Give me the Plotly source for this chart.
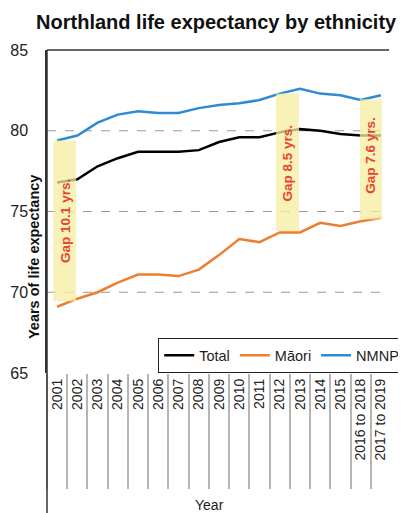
import plotly.graph_objects as go

# Category labels and series values
years = ['2001', '2002', '2003', '2004', '2005', '2006', '2007', '2008', '2009',
         '2010', '2011', '2012', '2013', '2014', '2015', '2016 to 2018', '2017 to 2019']

total = [76.8, 77.0, 77.8, 78.3, 78.7, 78.7, 78.7, 78.8, 79.3,
         79.6, 79.6, 79.9, 80.1, 80.0, 79.8, 79.7, 79.7]
maori = [69.1, 69.6, 70.0, 70.6, 71.1, 71.1, 71.0, 71.4, 72.3,
         73.3, 73.1, 73.7, 73.7, 74.3, 74.1, 74.4, 74.6]
nmnp = [79.4, 79.7, 80.5, 81.0, 81.2, 81.1, 81.1, 81.4, 81.6,
        81.7, 81.9, 82.3, 82.6, 82.3, 82.2, 81.9, 82.2]

# gap bands: start index, end index, low, high, label
gap_x0 = [-0.19, 10.82, 14.96]
gap_x1 = [0.94, 11.95, 16.05]
gap_lo = [69.45, 73.8, 74.5]
gap_hi = [79.4, 82.3, 81.95]
gap_text = ['Gap 10.1 yrs.', 'Gap 8.5 yrs.', 'Gap 7.6 yrs.']
gap_text_y = [74.4, 78.0, 78.5]

fig = go.Figure()

fig.add_trace(go.Scatter(x=years, y=total, name='Total', mode='lines',
                         line=dict(color='black', width=2.5)))
fig.add_trace(go.Scatter(x=years, y=maori, name='Māori', mode='lines',
                         line=dict(color='#ED7D31', width=2.5)))
fig.add_trace(go.Scatter(x=years, y=nmnp, name='NMNP', mode='lines',
                         line=dict(color='#2E8AD3', width=2.5)))

# dashed gridlines
for v in [70, 75, 80]:
    fig.add_shape(type='line', xref='paper', x0=0, x1=1, yref='y', y0=v, y1=v,
                  line=dict(color='#9a9a9a', width=1.2, dash='dash'), layer='below')

# yellow gap bands drawn over the lines
for x0, x1, lo, hi, t, ty in zip(gap_x0, gap_x1, gap_lo, gap_hi, gap_text, gap_text_y):
    fig.add_shape(type='rect', xref='x', yref='y', x0=x0, x1=x1, y0=lo, y1=hi,
                  fillcolor='rgba(245,236,160,0.75)', line_width=0, layer='above')
    fig.add_annotation(x=(x0 + x1) / 2, y=ty, xref='x', yref='y', text='<b>' + t + '</b>',
                       textangle=-90, showarrow=False,
                       font=dict(color='#E8442C', size=13.5, family='Liberation Sans'))

# left border continues down past the tick labels
fig.add_shape(type='line', xref='paper', yref='paper', x0=0, x1=0, y0=1, y1=-0.45,
              line=dict(color='#333', width=1.5))

# y axis title, sitting over the tick labels
fig.add_annotation(xref='paper', yref='paper', x=-0.04, y=0.36, xanchor='center',
                   yanchor='middle', text='<b>Years of life expectancy</b>', textangle=-90,
                   showarrow=False, font=dict(size=14.5, color='#111'))

# x axis title
fig.add_annotation(xref='paper', yref='paper', x=0.475, y=-0.41, xanchor='center',
                   yanchor='middle', text='Year', showarrow=False,
                   font=dict(size=14, color='#222'))

fig.update_layout(
    width=398, height=505,
    margin=dict(l=39, r=0, t=42, b=140),
    plot_bgcolor='white', paper_bgcolor='white',
    font=dict(family='Liberation Sans, Arial', color='#222'),
    title=dict(text='<b>Northland life expectancy by ethnicity</b>',
               x=0.523, xanchor='center', y=0.972, yanchor='middle',
               font=dict(size=20, color='#111')),
    legend=dict(orientation='h', x=0.325, xanchor='left', y=0, yanchor='bottom',
                bordercolor='#222', borderwidth=1.2, bgcolor='white',
                font=dict(size=14.5, color='#222'), itemwidth=30,
                tracegroupgap=0),
    showlegend=True,
)

fig.update_xaxes(type='category', range=[-0.5, 16.4], showgrid=False,
                 showline=False, tickson='boundaries', ticks='outside',
                 ticklen=115, tickwidth=1.5, tickcolor='#b5b5b5',
                 tickangle=-90, ticklabelstandoff=2, automargin=False,
                 tickfont=dict(size=14, color='#222'))
fig.update_yaxes(range=[65, 85], tickvals=[65, 70, 75, 80, 85], showgrid=False,
                 showline=True, linecolor='#333', linewidth=1.5, ticks='',
                 ticklabelstandoff=14, zeroline=False, automargin=False,
                 tickfont=dict(size=16, color='#222'))

# top border of plot area
fig.add_shape(type='line', xref='paper', yref='paper', x0=0, x1=1, y0=1, y1=1,
              line=dict(color='#333', width=1.5))

fig.write_html('out.html')
